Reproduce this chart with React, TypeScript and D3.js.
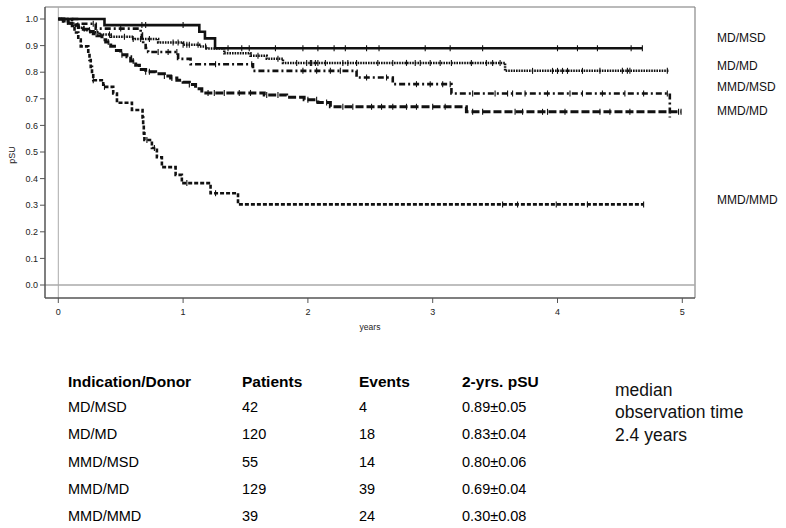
import React from "react";
import * as d3 from "d3";

// ---------- data ----------
const groups = ["MD/MSD", "MD/MD", "MMD/MSD", "MMD/MD", "MMD/MMD"];

const mdMsdTimes = [0.37, 1.13, 1.175, 1.256];
const mdMsdSurv = [0.977, 0.952, 0.927, 0.89];
const mdMsdEnd = 4.68;
const mdMsdCensor = [0.67, 0.7, 1.0, 1.36, 1.47, 1.53, 1.74, 1.96, 2.08, 2.21, 2.3, 2.47, 2.57, 2.94, 3.14, 3.4, 4.0, 4.16, 4.32, 4.59, 4.68];

const mdMdTimes = [0.05, 0.08, 0.12, 0.16, 0.2, 0.26, 0.33, 0.42, 0.6, 0.8, 1.0, 1.13, 1.19, 1.33, 1.54, 1.67, 1.8, 3.58];
const mdMdSurv = [0.992, 0.983, 0.975, 0.967, 0.958, 0.95, 0.942, 0.933, 0.925, 0.912, 0.903, 0.897, 0.889, 0.871, 0.862, 0.851, 0.835, 0.805];
const mdMdEnd = 4.89;
const mdMdCensor = [0.25, 0.31, 0.41, 0.53, 0.6, 0.66, 0.73, 0.92, 0.96, 1.0, 1.03, 1.05, 1.12, 1.18, 1.6, 1.76, 1.91, 1.99, 2.02, 2.03, 2.06, 2.08, 2.14, 2.28, 2.32, 2.39, 2.56, 2.68, 2.79, 2.86, 2.9, 2.98, 3.06, 3.15, 3.31, 3.43, 3.48, 3.54, 3.8, 3.96, 4.0, 4.04, 4.08, 4.2, 4.34, 4.52, 4.56, 4.58, 4.88];

const mmdMsdTimes = [0.15, 0.3, 0.66, 0.67, 0.68, 0.7, 0.72, 0.96, 1.06, 1.56, 2.39, 2.68, 3.15, 4.9];
const mmdMsdSurv = [0.982, 0.964, 0.945, 0.927, 0.909, 0.891, 0.876, 0.85, 0.83, 0.805, 0.78, 0.755, 0.72, 0.63];
const mmdMsdEnd = 4.9;
const mmdMsdCensor = [0.28, 0.5, 0.8, 0.88, 0.95, 1.26, 1.55, 1.96, 2.07, 2.18, 2.26, 2.47, 2.63, 2.87, 2.98, 3.08, 3.14, 3.32, 3.5, 3.6, 3.64, 3.74, 3.92, 4.1, 4.2, 4.36, 4.54, 4.69, 4.88];

const mmdMdTimes = [0.04, 0.08, 0.12, 0.16, 0.2, 0.24, 0.28, 0.31, 0.35, 0.38, 0.42, 0.45, 0.5, 0.55, 0.58, 0.62, 0.65, 0.7, 0.78, 0.85, 0.9, 0.95, 1.0, 1.05, 1.1, 1.15, 1.65, 1.83, 1.97, 2.08, 2.18, 3.27];
const mmdMdSurv = [0.992, 0.984, 0.977, 0.969, 0.961, 0.953, 0.945, 0.937, 0.922, 0.914, 0.898, 0.882, 0.866, 0.858, 0.842, 0.826, 0.81, 0.802, 0.794, 0.786, 0.778, 0.77, 0.762, 0.754, 0.738, 0.722, 0.714, 0.706, 0.696, 0.686, 0.67, 0.651];
const mmdMdEnd = 4.99;
const mmdMdCensor = [0.4, 0.51, 0.6, 0.7, 0.73, 0.85, 0.91, 1.05, 1.2, 1.25, 1.33, 1.45, 1.54, 1.67, 1.76, 2.0, 2.07, 2.15, 2.28, 2.36, 2.51, 2.59, 2.68, 2.79, 2.87, 3.0, 3.1, 3.32, 3.4, 3.66, 3.72, 3.88, 3.92, 4.06, 4.34, 4.42, 4.58, 4.97, 4.99];

const mmdMmdTimes = [0.11, 0.13, 0.16, 0.18, 0.24, 0.25, 0.26, 0.27, 0.28, 0.36, 0.44, 0.47, 0.59, 0.675, 0.68, 0.685, 0.69, 0.75, 0.79, 0.83, 0.94, 0.99, 1.22, 1.44];
const mmdMmdSurv = [0.974, 0.949, 0.923, 0.897, 0.872, 0.846, 0.82, 0.795, 0.77, 0.745, 0.72, 0.685, 0.658, 0.63, 0.6, 0.57, 0.545, 0.515, 0.48, 0.443, 0.414, 0.383, 0.345, 0.303];
const mmdMmdEnd = 4.69;
const mmdMmdCensor = [0.28, 0.37, 0.71, 0.77, 1.03, 1.26, 3.56, 3.68, 3.99, 4.24, 4.69];

const yTicks = [0, 0.1, 0.2, 0.3, 0.4, 0.5, 0.6, 0.7, 0.8, 0.9, 1.0];
const xTicks = [0, 1, 2, 3, 4, 5];

const tableHeader = ["Indication/Donor", "Patients", "Events", "2-yrs. pSU"];
const tablePatients = [42, 120, 55, 129, 39];
const tableEvents = [4, 18, 14, 39, 24];
const tablePsu = ["0.89±0.05", "0.83±0.04", "0.80±0.06", "0.69±0.04", "0.30±0.08"];
const noteLines = ["median", "observation time", "2.4 years"];

// ---------- layout / style ----------
const W = 786;
const H = 528;
const frame = { left: 45, top: 7, right: 695, bottom: 298 };
const x = d3.scaleLinear().domain([0, 5]).range([58.3, 682.3]);
const y = d3.scaleLinear().domain([0, 1]).range([285, 19]);

const series = [
  { name: groups[0], times: mdMsdTimes, surv: mdMsdSurv, end: mdMsdEnd, censor: mdMsdCensor, dash: "none", width: 2.6, labelY: 38 },
  { name: groups[1], times: mdMdTimes, surv: mdMdSurv, end: mdMdEnd, censor: mdMdCensor, dash: "1.6,1", width: 2.5, labelY: 66 },
  { name: groups[2], times: mmdMsdTimes, surv: mmdMsdSurv, end: mmdMsdEnd, censor: mmdMsdCensor, dash: "6,3,2,3", width: 2.6, labelY: 87 },
  { name: groups[3], times: mmdMdTimes, surv: mmdMdSurv, end: mmdMdEnd, censor: mmdMdCensor, dash: "8,3", width: 3, labelY: 111 },
  { name: groups[4], times: mmdMmdTimes, surv: mmdMmdSurv, end: mmdMmdEnd, censor: mmdMmdCensor, dash: "4,2", width: 2.6, labelY: 200 },
];

function survAt(times: number[], surv: number[], t: number) {
  let s = 1;
  for (let i = 0; i < times.length; i++) {
    if (times[i] <= t) s = surv[i];
  }
  return s;
}

const stepLine = d3
  .line<[number, number]>()
  .x((d) => x(d[0]))
  .y((d) => y(d[1]))
  .curve(d3.curveStepAfter);

export default function App() {
  const font = "Arial, 'Liberation Sans', Helvetica, sans-serif";
  const rowY = [407, 434, 461.5, 488.5, 515.5];
  const colX = [68, 242, 359, 462];
  return (
    <svg
      width={W}
      height={H}
      viewBox={`0 0 ${W} ${H}`}
      style={{ position: "absolute", left: 0, top: 0, background: "#fff" }}
      fontFamily={font}
    >
      <rect x={0} y={0} width={W} height={H} fill="#fff" />
      {/* frame */}
      <line x1={frame.left} y1={frame.top} x2={frame.right} y2={frame.top} stroke="#777" strokeWidth={1.2} />
      <line x1={frame.right} y1={frame.top} x2={frame.right} y2={frame.bottom} stroke="#888" strokeWidth={1.2} />
      {/* reference lines */}
      <line x1={x(0)} y1={frame.top} x2={x(0)} y2={frame.bottom} stroke="#aaa" strokeWidth={1} />
      <line x1={frame.left} y1={y(0)} x2={frame.right} y2={y(0)} stroke="#aaa" strokeWidth={1.3} />
      <line x1={frame.left} y1={frame.top} x2={frame.left} y2={frame.bottom} stroke="#555" strokeWidth={1.5} />
      <line x1={frame.left} y1={frame.bottom} x2={frame.right} y2={frame.bottom} stroke="#555" strokeWidth={1.5} />
      {/* y axis */}
      {yTicks.map((t) => (
        <g key={"y" + t}>
          <line x1={frame.left - 5} x2={frame.left} y1={y(t)} y2={y(t)} stroke="#555" strokeWidth={1} />
          <text x={frame.left - 7} y={y(t)} dy="0.35em" textAnchor="end" fontSize={9} fill="#222">
            {t.toFixed(1)}
          </text>
        </g>
      ))}
      {/* x axis */}
      {xTicks.map((t) => (
        <g key={"x" + t}>
          <line x1={x(t)} x2={x(t)} y1={frame.bottom} y2={frame.bottom + 5} stroke="#555" strokeWidth={1} />
          <text x={x(t)} y={frame.bottom + 14} dy="0.35em" textAnchor="middle" fontSize={9} fill="#222">
            {t}
          </text>
        </g>
      ))}
      <text x={370} y={327} dy="0.35em" textAnchor="middle" fontSize={8.5} fill="#222">
        years
      </text>
      <text transform={`translate(12,155) rotate(-90)`} textAnchor="middle" dy="0.35em" fontSize={9} fill="#222">
        pSU
      </text>
      {/* curves */}
      {series.map((s) => {
        const pts: [number, number][] = [[0, 1]];
        s.times.forEach((t, i) => pts.push([t, s.surv[i]]));
        const last = s.times[s.times.length - 1];
        if (s.end > last) pts.push([s.end, s.surv[s.surv.length - 1]]);
        return (
          <g key={s.name}>
            <path d={stepLine(pts) || ""} fill="none" stroke="#111" strokeWidth={s.width} strokeDasharray={s.dash} />
            {s.censor.map((c, i) => {
              const v = survAt(s.times, s.surv, c >= last && last === s.end ? last - 0.001 : c);
              return (
                <line key={i} x1={x(c)} x2={x(c)} y1={y(v) - 3} y2={y(v) + 3} stroke="#111" strokeWidth={1.1} />
              );
            })}
            <text x={717} y={s.labelY} dy="0.35em" fontSize={12} fill="#111">
              {s.name}
            </text>
          </g>
        );
      })}
      {/* table */}
      {tableHeader.map((h, i) => (
        <text key={h} x={colX[i]} y={381.5} dy="0.35em" fontSize={15.5} fontWeight="bold" fill="#000">
          {h}
        </text>
      ))}
      {groups.map((g, i) => (
        <g key={"row" + g}>
          <text x={colX[0]} y={rowY[i]} dy="0.35em" fontSize={14.5} fill="#000">{g}</text>
          <text x={colX[1]} y={rowY[i]} dy="0.35em" fontSize={14.5} fill="#000">{tablePatients[i]}</text>
          <text x={colX[2]} y={rowY[i]} dy="0.35em" fontSize={14.5} fill="#000">{tableEvents[i]}</text>
          <text x={colX[3]} y={rowY[i]} dy="0.35em" fontSize={14.5} fill="#000">{tablePsu[i]}</text>
        </g>
      ))}
      {noteLines.map((l, i) => (
        <text key={l} x={615} y={390 + i * 22.2} dy="0.35em" fontSize={17.5} fill="#111">
          {l}
        </text>
      ))}
    </svg>
  );
}
